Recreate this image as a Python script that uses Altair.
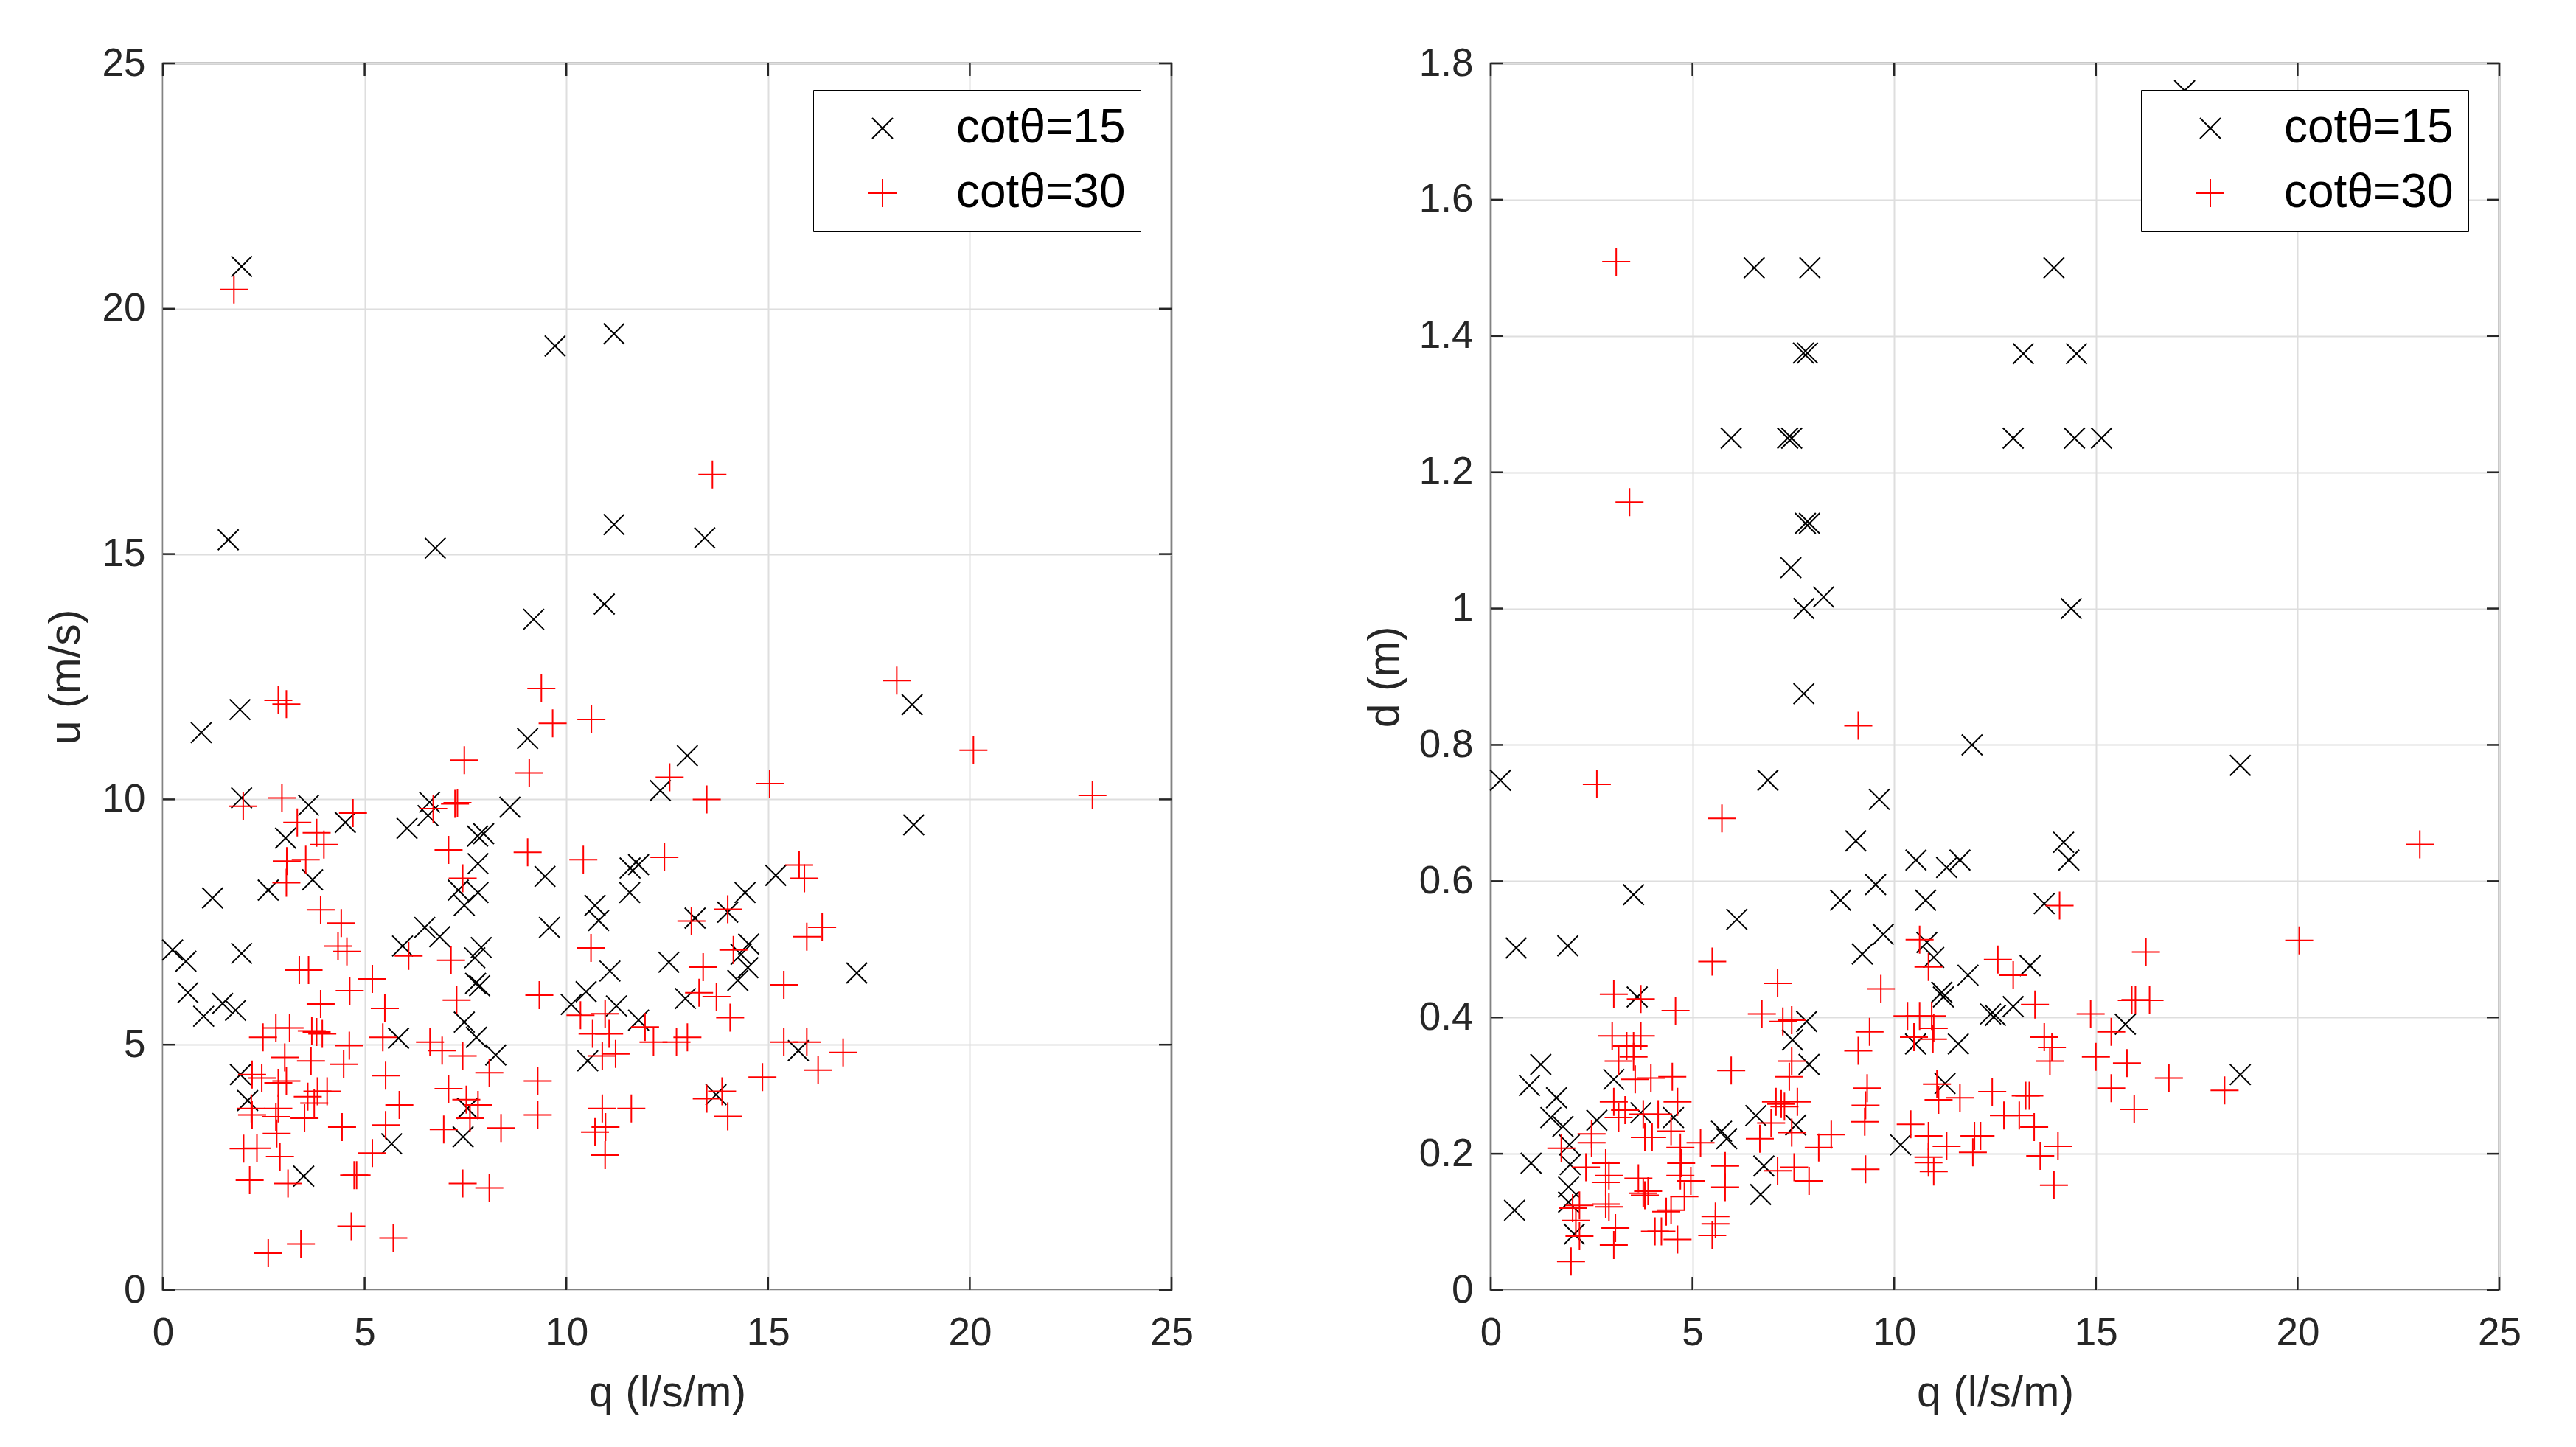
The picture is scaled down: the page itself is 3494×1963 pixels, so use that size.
import altair as alt
import pandas as pd

# ---------------- data ----------------
# Left panel: u (m/s) vs q (l/s/m)
u15_q = [1.95, 9.72, 11.18, 1.62, 6.75, 11.18, 9.19, 10.94, 1.91, 0.95, 9.04, 13.43, 18.57, 13.0,
         12.33, 18.61, 15.19, 14.43, 13.19, 14.0, 14.52, 14.33, 14.5, 14.25, 12.54, 17.2, 12.95,
         15.75, 13.71, 1.95, 3.61, 4.52, 6.61, 6.57, 6.05, 8.6, 7.8, 7.95, 3.04, 7.81, 9.47, 11.79,
         11.58, 11.57, 3.71, 2.61, 1.23, 7.32, 7.81, 7.47, 10.71, 10.8, 6.49, 6.86, 5.94, 9.58,
         7.89, 7.73, 0.24, 0.57, 1.95, 11.08, 7.75, 7.85, 10.49, 0.62, 10.12, 11.24, 1.48, 1.8,
         1.01, 11.79, 7.47, 7.77, 8.25, 5.84, 10.53, 1.92, 2.1, 7.55, 7.44, 5.67, 3.49]
u15_u = [20.86, 19.24, 19.49, 15.29, 15.12, 15.60, 13.67, 13.98, 11.83, 11.36, 11.24, 15.33, 11.93,
         10.89, 10.18, 9.48, 8.45, 8.10, 7.58, 7.70, 7.05, 6.84, 6.57, 6.31, 6.68, 6.46, 5.94, 4.88,
         3.98, 10.03, 9.88, 9.53, 9.94, 9.67, 9.41, 9.84, 9.25, 9.3, 9.21, 8.69, 8.43, 8.67, 8.6,
         8.10, 8.36, 8.15, 7.99, 8.15, 8.1, 7.84, 7.84, 7.53, 7.39, 7.2, 7.01, 7.39, 6.98, 6.77,
         6.93, 6.7, 6.86, 6.5, 6.25, 6.2, 6.08, 6.06, 5.82, 5.79, 5.84, 5.7, 5.58, 5.5, 5.46, 5.15,
         4.79, 5.13, 4.67, 4.39, 3.86, 3.7, 3.12, 2.98, 2.32]
u30_q = [1.76, 2.86, 3.06, 7.47, 9.38, 9.66, 10.62, 9.08, 13.62, 18.19, 20.09, 12.56, 15.04, 23.04,
         13.48, 12.43, 15.77, 15.9, 13.1, 14.0, 16.34, 15.96, 14.14, 13.39, 15.39, 13.29, 13.72,
         14.06, 12.16, 12.73, 13.0, 15.39, 15.96, 16.86, 16.24, 14.86, 13.48, 13.86, 14.0,
         2.95, 1.99, 4.71, 3.33, 3.81, 3.99, 6.7, 7.24, 7.3, 7.08, 9.04, 10.42, 3.07, 3.54, 3.06,
         7.43, 3.91, 4.42, 4.34, 4.56, 3.38, 3.61, 6.09, 7.14, 10.61, 4.63, 5.19, 7.28, 9.33, 3.91,
         5.5, 10.35, 10.96, 11.95, 10.65, 11.06, 11.22, 10.89, 2.48, 2.8, 3.14, 3.69, 3.81, 3.95,
         5.45, 4.62, 6.62, 6.92, 7.43, 3.02, 3.67, 4.48, 5.52, 8.09, 9.29, 2.21, 2.45, 2.86, 3.06,
         3.83, 4.07, 3.59, 3.75, 7.08, 7.52, 7.81, 5.86, 2.19, 2.86, 9.29, 10.89, 11.61, 2.21, 2.8,
         3.51, 4.44, 5.52, 6.96, 7.61, 8.38, 10.71, 10.97, 2.82, 2.0, 2.33, 2.9, 5.19, 10.96, 2.15,
         3.1, 4.74, 4.8, 7.43, 8.09, 4.67, 5.71, 3.42, 2.61]
u30_u = [20.39, 12.02, 11.94, 10.8, 12.26, 11.55, 11.63, 10.54, 16.62, 12.42, 11.0, 10.45, 10.32,
         10.08, 10.0, 8.82, 8.66, 8.39, 7.52, 7.76, 7.39, 7.2, 6.93, 6.58, 6.22, 6.06, 5.98, 5.55,
         5.05, 5.05, 5.15, 5.05, 5.05, 4.84, 4.48, 4.34, 3.9, 4.05, 3.54,
         10.03, 9.86, 9.72, 9.53, 9.32, 9.08, 9.81, 9.91, 9.93, 8.97, 8.92, 8.77, 8.74, 8.77, 8.3,
         8.39, 7.75, 7.48, 7.01, 6.9, 6.52, 6.52, 6.81, 6.72, 6.97, 6.1, 6.34, 5.91, 6.01, 5.83,
         5.74, 5.6, 5.63, 5.36, 5.22, 5.22, 4.81, 4.77, 5.15, 5.34, 5.34, 5.28, 5.26, 5.22, 5.15,
         4.98, 5.05, 4.88, 4.77, 4.74, 4.67, 4.6, 4.37, 4.43, 4.26, 4.39, 4.32, 4.22, 4.26, 4.05,
         4.05, 3.94, 3.81, 4.1, 3.88, 3.77, 3.77, 3.7, 3.7, 3.57, 3.7, 3.7, 3.57, 3.53, 3.5, 3.32,
         3.36, 3.27, 3.5, 3.3, 3.22, 3.32, 3.19, 2.88, 2.89, 2.72, 2.79, 2.75, 2.24, 2.17, 2.34,
         2.34, 2.17, 2.08, 1.3, 1.06, 0.94, 0.75]

# Right panel: d (m) vs q (l/s/m)
d15_q = [6.53, 7.91, 7.75, 7.85, 5.96, 7.36, 7.46, 7.8, 7.9, 7.44, 8.25, 7.76, 7.76, 11.93, 0.24,
         6.87, 9.63, 9.05, 10.54, 11.3, 11.63, 3.54, 9.54, 8.67, 10.78, 6.1, 13.96, 13.2, 14.52,
         12.95, 14.47, 15.14, 14.39, 18.58, 14.2, 14.33, 13.72, 17.2, 0.63, 1.91, 9.73, 9.21, 10.81,
         10.98, 11.83, 11.18, 11.22, 3.63, 7.83, 7.48, 7.89, 10.53, 11.59, 11.26, 1.24, 3.05, 0.96,
         1.63, 1.49, 1.79, 2.63, 3.72, 4.53, 6.57, 5.72, 5.85, 7.56, 1.95, 1.0, 1.97, 6.77, 1.93,
         1.93, 6.69, 0.59, 10.16, 2.07, 13.37, 12.39, 12.51, 12.95, 15.73, 18.58]
d15_d = [1.50, 1.50, 1.375, 1.375, 1.25, 1.25, 1.25, 1.125, 1.125, 1.06, 1.017, 1.0, 0.875, 0.80,
         0.748, 0.748, 0.72, 0.659, 0.631, 0.62, 0.631, 0.58, 0.595, 0.572, 0.572, 0.544, 1.50,
         1.374, 1.374, 1.25, 1.25, 1.25, 1.0, 0.77, 0.657, 0.631, 0.567, 1.76, 0.502, 0.505, 0.522,
         0.493, 0.51, 0.488, 0.462, 0.437, 0.43, 0.43, 0.394, 0.367, 0.331, 0.361, 0.361, 0.303,
         0.331, 0.309, 0.3, 0.282, 0.253, 0.24, 0.249, 0.26, 0.253, 0.256, 0.233, 0.222, 0.242,
         0.213, 0.186, 0.184, 0.182, 0.151, 0.129, 0.14, 0.117, 0.213, 0.082, 0.476, 0.405, 0.403,
         0.416, 0.39, 0.316]
d30_q = [3.11, 3.44, 9.11, 2.63, 5.73, 23.03, 14.1, 5.49, 7.11, 9.67, 10.63, 10.85, 3.05, 3.72, 4.58,
         6.72, 7.24, 7.46, 10.33, 10.63, 10.93, 9.39, 10.98, 9.11, 10.49, 10.96, 3.01, 3.72, 3.37,
         3.54, 3.17, 3.54, 3.97, 4.5, 3.58, 5.96, 7.46, 7.4, 9.33, 9.29, 9.27, 11.06, 11.63, 11.1,
         3.05, 3.33, 3.17, 4.63, 3.78, 4.15, 4.47, 3.82, 4.0, 2.5, 2.5, 1.75, 4.7, 5.2, 7.07, 7.2,
         7.28, 6.95, 6.67, 7.6, 7.46, 8.44, 8.13, 10.41, 10.85, 11.3, 11.99, 11.95, 2.36, 2.85,
         2.93, 2.85, 4.72, 4.7, 4.96, 4.8, 5.81, 5.81, 7.11, 7.52, 7.89, 9.29, 10.85, 10.98, 10.85,
         3.66, 3.78, 3.82, 3.9, 2.85, 2.93, 2.03, 2.2, 4.35, 4.47, 5.57, 5.57, 5.49, 2.11, 2.2,
         3.09, 4.07, 4.23, 4.63, 3.05, 1.99, 12.57, 12.95, 16.24, 20.04, 13.49, 15.98, 15.89,
         16.33, 14.87, 15.38, 13.72, 13.91, 13.86, 15.0, 15.77, 16.81, 18.19, 15.38, 15.95, 12.43,
         13.26, 13.35, 12.72, 13.1, 13.47, 12.14, 14.06, 13.62, 13.96]
d30_d = [1.509, 1.156, 0.828, 0.742, 0.692, 0.654, 0.564, 0.482, 0.45, 0.442, 0.514, 0.474, 0.434,
         0.427, 0.41, 0.405, 0.394, 0.396, 0.402, 0.402, 0.402, 0.379, 0.384, 0.351, 0.371, 0.368,
         0.373, 0.373, 0.358, 0.358, 0.336, 0.342, 0.311, 0.313, 0.309, 0.322, 0.336, 0.313, 0.296,
         0.271, 0.247, 0.302, 0.282, 0.279, 0.276, 0.264, 0.253, 0.276, 0.258, 0.258, 0.233, 0.224,
         0.224, 0.229, 0.216, 0.208, 0.209, 0.216, 0.276, 0.273, 0.269, 0.245, 0.222, 0.276, 0.231,
         0.228, 0.209, 0.243, 0.226, 0.211, 0.226, 0.202, 0.18, 0.186, 0.168, 0.158, 0.186, 0.168,
         0.16, 0.137, 0.182, 0.151, 0.175, 0.18, 0.16, 0.177, 0.187, 0.174, 0.195, 0.164, 0.142,
         0.139, 0.145, 0.126, 0.122, 0.12, 0.124, 0.115, 0.117, 0.108, 0.097, 0.08, 0.102, 0.079,
         0.091, 0.086, 0.086, 0.074, 0.066, 0.042, 0.485, 0.462, 0.496, 0.513, 0.419, 0.426, 0.425,
         0.425, 0.405, 0.379, 0.371, 0.356, 0.336, 0.342, 0.333, 0.311, 0.293, 0.296, 0.265, 0.291,
         0.285, 0.285, 0.256, 0.256, 0.239, 0.226, 0.211, 0.197, 0.154]

series_names = ["cotθ=15", "cotθ=30"]
x_ticks = [0, 5, 10, 15, 20, 25]
u_ticks = [0, 5, 10, 15, 20, 25]
d_ticks = [0, 0.2, 0.4, 0.6, 0.8, 1.0, 1.2, 1.4, 1.6, 1.8]

# ---------------- styling ----------------
FONT = "Liberation Sans"
AX = "#262626"
W, H = 1368, 1664
TICK = 17
X_PATH = "M-0.737,-0.737L0.737,0.737M-0.737,0.737L0.737,-0.737"
PLUS_PATH = "M-1,0L1,0M0,-1L0,1"


def panel(q15, v15, q30, v30, ymax, yticks, ytitle, title_x):
    df = pd.DataFrame({
        "q": q15 + q30,
        "v": v15 + v30,
        "series": [series_names[0]] * len(q15) + [series_names[1]] * len(q30),
    })
    xs = alt.Scale(domain=[0, 25], nice=False, zero=False)
    ys = alt.Scale(domain=[0, ymax], nice=False, zero=False)
    legend = alt.Legend(
        title=None, orient="none", legendX=882, legendY=36, direction="vertical",
        fillColor="white", strokeColor="#000000", padding=20, rowPadding=24,
        symbolOffset=42, labelOffset=68, symbolSize=1444, symbolStrokeWidth=2,
        labelFont=FONT, labelFontSize=64, labelColor="black", labelLimit=600,
    )
    x_axis = alt.Axis(
        values=x_ticks, title="q (l/s/m)", grid=True, gridColor="#dedede", gridWidth=2,
        ticks=False, domain=False, labelFont=FONT, labelFontSize=53, labelColor=AX,
        labelPadding=32, labelFlush=False, labelOverlap=False,
        titleFont=FONT, titleFontSize=59, titleFontWeight="normal", titleColor=AX,
        titleY=139, titleBaseline="middle",
    )
    y_axis = alt.Axis(
        values=yticks, format="~g", title=ytitle, grid=True, gridColor="#dedede", gridWidth=2,
        ticks=False, domain=False, labelFont=FONT, labelFontSize=53, labelColor=AX,
        labelPadding=24, labelFlush=False, labelOverlap=False,
        titleFont=FONT, titleFontSize=59, titleFontWeight="normal", titleColor=AX,
        titleX=title_x, titleBaseline="middle",
    )
    X = alt.X("q:Q", scale=xs, axis=x_axis)
    Y = alt.Y("v:Q", scale=ys, axis=y_axis)
    pts = alt.Chart(df).mark_point(filled=False, strokeWidth=2, size=1444, opacity=1).encode(
        x=X,
        y=Y,
        color=alt.Color("series:N", scale=alt.Scale(domain=series_names, range=["#000000", "#ff0000"]),
                        legend=legend),
        shape=alt.Shape("series:N", scale=alt.Scale(domain=series_names, range=[X_PATH, PLUS_PATH]),
                        legend=legend),
    )
    xt = pd.DataFrame({"q": x_ticks})
    yt = pd.DataFrame({"v": yticks})
    rule = dict(color=AX, strokeWidth=2.5)
    bottom = alt.Chart(xt).mark_rule(**rule).encode(x=X, y=alt.value(H), y2=alt.value(H - TICK))
    top = alt.Chart(xt).mark_rule(**rule).encode(x=X, y=alt.value(0), y2=alt.value(TICK))
    left = alt.Chart(yt).mark_rule(**rule).encode(y=Y, x=alt.value(0), x2=alt.value(TICK))
    right = alt.Chart(yt).mark_rule(**rule).encode(y=Y, x=alt.value(W), x2=alt.value(W - TICK))
    return alt.layer(pts, bottom, top, left, right).properties(width=W, height=H)


left_panel = panel(u15_q, u15_u, u30_q, u30_u, 25, u_ticks, "u (m/s)", -132)
right_panel = panel(d15_q, d15_d, d30_q, d30_d, 1.8, d_ticks, "d (m)", -144)

chart = (
    alt.hconcat(left_panel, right_panel, spacing=433, bounds="flush")
    .resolve_scale(color="independent", shape="independent", x="independent", y="independent")
    .resolve_legend(color="independent", shape="independent")
    .properties(padding={"left": 50, "top": 50, "right": 10, "bottom": 5}, background="white")
    .configure_view(stroke=AX, strokeWidth=2.5)
)

chart.save("out.html", embed_options={"renderer": "svg", "actions": False})
